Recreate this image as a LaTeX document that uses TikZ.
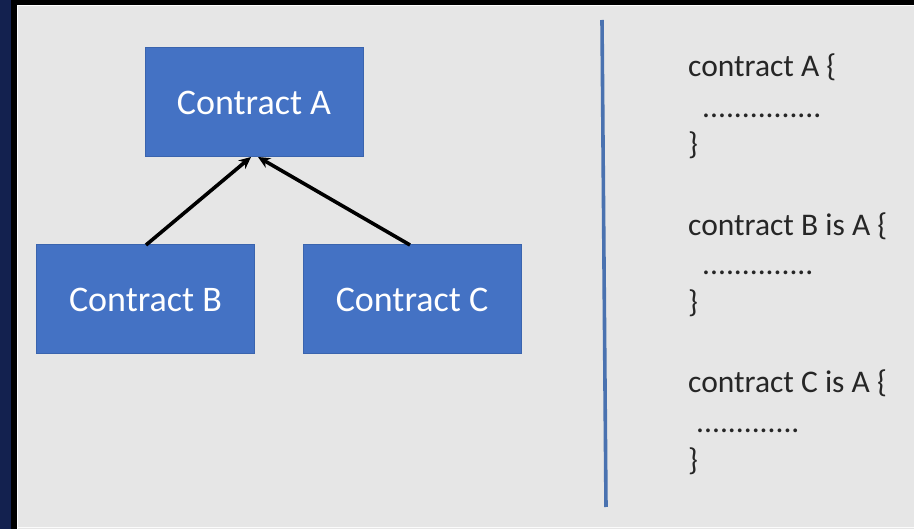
\documentclass[tikz,border=0pt]{standalone}
\usepackage{fontspec}
\setmainfont{Carlito}
\usetikzlibrary{arrows.meta}
\definecolor{navy}{HTML}{13214F}
\definecolor{panel}{HTML}{E6E6E6}
\definecolor{boxblue}{HTML}{4472C4}
\definecolor{boxedge}{HTML}{3A64AE}
\definecolor{rule}{HTML}{4A72B0}
\definecolor{codetext}{HTML}{262626}
\begin{document}
\begin{tikzpicture}[x=1pt,y=-1pt,
  classbox/.style={draw=boxedge,line width=1pt,fill=boxblue,minimum width=218pt,minimum height=109pt,
    inner sep=0pt,text=white,font=\fontsize{36}{36}\selectfont},
  inherit/.style={line width=3.6pt,black,-{Stealth[length=12pt,width=11pt]}},
  code/.style={anchor=base west,inner sep=0pt,text=codetext,font=\fontsize{31.5}{31.5}\selectfont}]
  \useasboundingbox (0,0) rectangle (914,529);
  % frame and panel
  \fill[black] (0,0) rectangle (914,529);
  \fill[navy] (0,0) rectangle (11,529);
  \fill[panel] (17,5) rectangle (914,529);
  \draw[white,line width=1pt] (17.5,529) -- (17.5,5.5) -- (914,5.5);
  \draw[white!85!panel,line width=1.2pt] (17,527.5) -- (914,527.5);
  % class hierarchy
  \node[classbox] (A) at (254,102.5) {Contract A};
  \node[classbox] (B) at (145.5,299.5) {Contract B};
  \node[classbox] (C) at (412,299.5) {Contract C};
  \coordinate (Ain1) at (251,157);
  \coordinate (Ain2) at (258,157);
  \coordinate (Bout) at (146,245);
  \coordinate (Cout) at (410,245);
  \draw[inherit] (Bout) -- (Ain1);
  \draw[inherit] (Cout) -- (Ain2);
  % divider
  \coordinate (top) at (602,20);
  \coordinate (bot) at (606,507);
  \draw[rule,line width=3.6pt] (top) -- (bot);
  % source listing
  \node[code] (a1) at (688,77) {contract A \{};
  \node[code] (a2) at (702,118) {...............};
  \node[code] (a3) at (688,155) {\}};
  \node[code] (b1) at (688,236) {contract B is A \{};
  \node[code] (b2) at (702,275) {..............};
  \node[code] (b3) at (688,313) {\}};
  \node[code] (c1) at (688,393) {contract C is A \{};
  \node[code] (c2) at (696,433) {.............};
  \node[code] (c3) at (688,471) {\}};
\end{tikzpicture}
\end{document}
